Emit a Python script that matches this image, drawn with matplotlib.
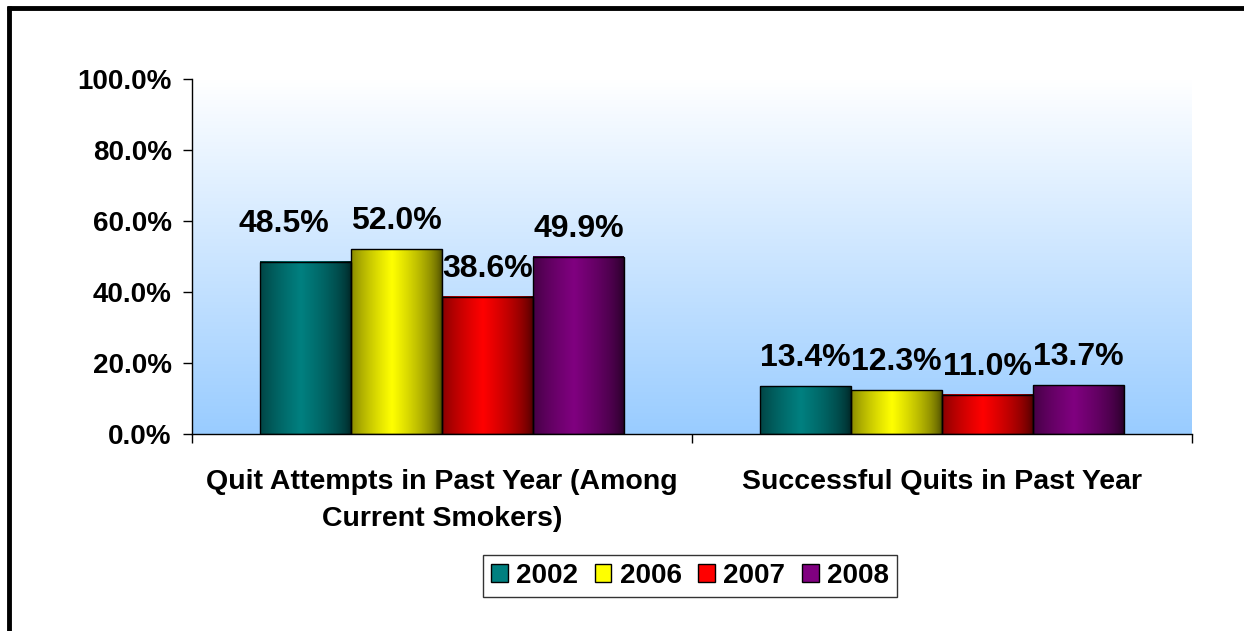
#!/usr/bin/env python3
"""Quit attempts / successful quits by survey year, Excel-style gradient bars."""
import matplotlib
matplotlib.use("Agg")
import matplotlib.pyplot as plt
import numpy as np
from matplotlib.colors import to_rgb
from matplotlib.lines import Line2D
from matplotlib.patches import Patch

categories = ["Quit Attempts in Past Year (Among\nCurrent Smokers)",
              "Successful Quits in Past Year"]
years = ["2002", "2006", "2007", "2008"]
values = {
    "2002": [48.5, 13.4],
    "2006": [52.0, 12.3],
    "2007": [38.6, 11.0],
    "2008": [49.9, 13.7],
}
yticks = [0, 20, 40, 60, 80, 100]

colors = ["#008080", "#FFFF00", "#FF0000", "#800080"]

plt.rcParams["font.family"] = ["Liberation Sans", "DejaVu Sans"]
plt.rcParams["font.weight"] = "bold"

W, H = 1244, 631
fig = plt.figure(figsize=(W / 100, H / 100), dpi=100)
ax = fig.add_axes([192 / W, 1 - 434 / H, 1000 / W, 355 / H])

# background gradient: white at top, light blue at bottom
top = np.array([1.0, 1.0, 1.0])
bot = np.array(to_rgb("#99CCFF"))
t = np.linspace(0, 1, 256)[:, None]
bg = (top * (1 - t) + bot * t)[:, None, :]
ax.imshow(bg, extent=[0, 2, 0, 100], aspect="auto", zorder=0)


def bar_shade(color, n=128):
    s = np.linspace(0, 1, n)
    f = 0.28 + 0.72 * np.clip(1 - np.abs(s - 0.45) / 0.55, 0, 1) ** 0.6
    return (np.array(to_rgb(color))[None, :] * f[:, None])[None, :, :]


n = len(years)
gap = 1.5
bw = 1.0 / (n + gap)
xc = np.arange(len(categories)) + 0.5
for i, (yr, col) in enumerate(zip(years, colors)):
    xs = xc - 0.5 + bw * gap / 2 + bw * (i + 0.5)
    bars = ax.bar(xs, values[yr], bw, facecolor="none", edgecolor="black",
                  linewidth=1, zorder=3)
    for rect, v in zip(bars, values[yr]):
        ax.imshow(bar_shade(col), extent=[rect.get_x(), rect.get_x() + rect.get_width(),
                                          0, rect.get_height()],
                  aspect="auto", zorder=2)
        dx, dy = (-16, 7) if (yr == "2002" and v == values[yr][0]) else (0, 0)
        ax.annotate(f"{v:.1f}%", (rect.get_x() + rect.get_width() / 2, v),
                    xytext=(dx, 14.5 + dy), textcoords="offset points",
                    ha="center", va="baseline", fontsize=23, fontweight="bold")

ax.set_xlim(0, 2)
ax.set_ylim(0, 100)
ax.set_yticks(yticks)
ax.set_yticklabels([f"{v:.1f}%" for v in yticks])
ax.set_xticks([0, 1, 2])
ax.set_xticklabels([])
ax.set_xticks(xc, minor=True)
ax.set_xticklabels(categories, minor=True, linespacing=1.55)
ax.tick_params(axis="y", direction="out", length=6.5, width=1, pad=8, labelsize=20)
ax.tick_params(axis="x", which="major", direction="out", length=6.5, width=1)
ax.tick_params(axis="x", which="minor", length=0, pad=25, labelsize=20.5)
for s in ("top", "right"):
    ax.spines[s].set_visible(False)
for s in ("left", "bottom"):
    ax.spines[s].set_linewidth(1)

handles = [Patch(facecolor=c, edgecolor="black", linewidth=1) for c in colors]
leg = fig.legend(handles, years, loc="center", ncol=4,
                 bbox_to_anchor=(690 / W, 1 - 576 / H),
                 prop={"size": 20, "weight": "bold"}, frameon=True, fancybox=False,
                 handlelength=0.6, handleheight=0.6, handletextpad=0.3,
                 columnspacing=0.6, borderpad=0.3, borderaxespad=0)
leg.get_frame().set_edgecolor("black")
leg.get_frame().set_linewidth(1)

# thick outer frame (left and top visible)
fig.add_artist(Line2D([9 / W, 9 / W], [0, 1 - 6 / H], color="black", linewidth=3.5,
                      transform=fig.transFigure, solid_capstyle="butt"))
fig.add_artist(Line2D([7 / W, 1], [1 - 8 / H, 1 - 8 / H], color="black", linewidth=3.5,
                      transform=fig.transFigure, solid_capstyle="butt"))

fig.savefig("out.png", dpi=100)
